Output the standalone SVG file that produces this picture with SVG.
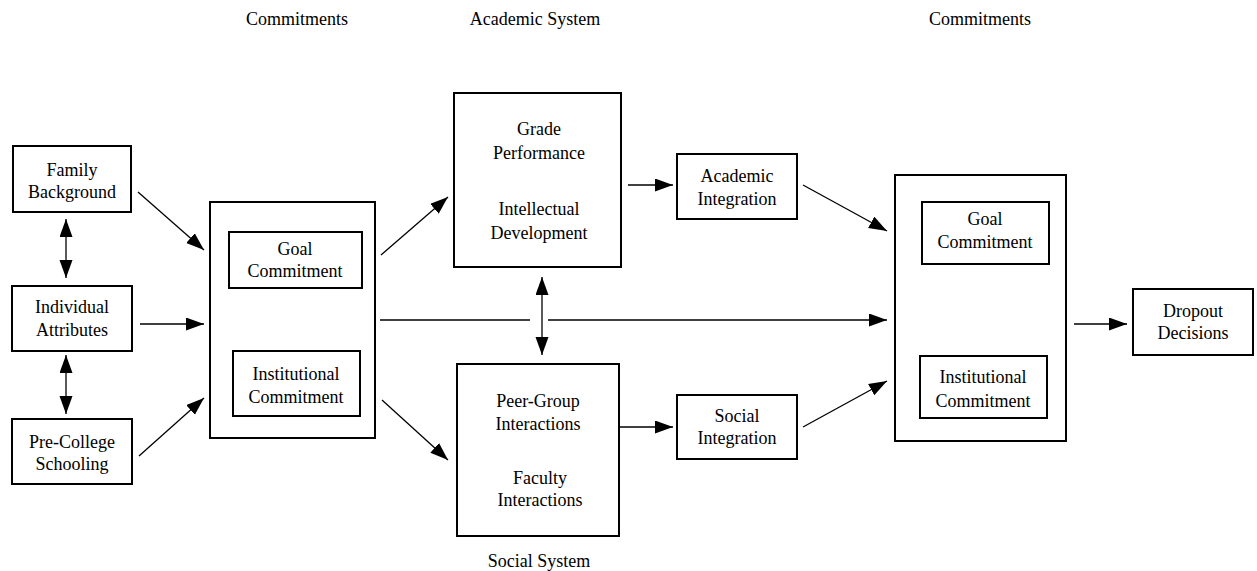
<svg xmlns="http://www.w3.org/2000/svg" width="1257" height="571" viewBox="0 0 1257 571">
<style>
rect{fill:#fff;stroke:#000;stroke-width:2}
text{font-family:"Liberation Serif","Times New Roman",serif;font-size:18px;fill:#000;text-anchor:middle}
.c line{stroke:#000;stroke-width:1.3}
</style>
<defs>
<marker id="ah" markerUnits="userSpaceOnUse" markerWidth="20" markerHeight="16" refX="18" refY="6.5" orient="auto-start-reverse">
<path d="M0,0 L18,6.5 L0,13 z" fill="#000"/>
</marker>
</defs>
<rect width="1257" height="571" style="fill:#fff;stroke:none"/>
<g id="titles">
<text x="297" y="25">Commitments</text>
<text x="535" y="25">Academic System</text>
<text x="980" y="25">Commitments</text>
<text x="539" y="567">Social System</text>
</g>
<g id="family"><rect x="13" y="146" width="118" height="66"/><text x="72" y="176">Family</text><text x="72" y="198">Background</text></g>
<g id="individual"><rect x="12" y="286" width="120" height="65"/><text x="72" y="313">Individual</text><text x="72" y="336">Attributes</text></g>
<g id="precollege"><rect x="12" y="419" width="120" height="65"/><text x="72" y="448">Pre-College</text><text x="72" y="470">Schooling</text></g>
<g id="commit1"><rect x="210" y="202" width="165" height="236"/>
<rect x="229" y="232" width="133" height="56"/><text x="295" y="255">Goal</text><text x="295" y="277">Commitment</text>
<rect x="233" y="351" width="127" height="65"/><text x="296" y="380">Institutional</text><text x="296" y="403">Commitment</text></g>
<g id="academic"><rect x="454" y="93" width="167" height="174"/><text x="539" y="135">Grade</text><text x="539" y="159">Performance</text><text x="539" y="215">Intellectual</text><text x="539" y="239">Development</text></g>
<g id="social"><rect x="457" y="364" width="162" height="172"/><text x="538" y="407">Peer-Group</text><text x="538" y="430">Interactions</text><text x="540" y="484">Faculty</text><text x="540" y="506">Interactions</text></g>
<g id="acadint"><rect x="677" y="154" width="120" height="65"/><text x="737" y="182">Academic</text><text x="737" y="205">Integration</text></g>
<g id="socint"><rect x="677" y="395" width="120" height="64"/><text x="737" y="422">Social</text><text x="737" y="444">Integration</text></g>
<g id="commit2"><rect x="895" y="175" width="171" height="266"/>
<rect x="922" y="202" width="127" height="62"/><text x="985" y="225">Goal</text><text x="985" y="248">Commitment</text>
<rect x="920" y="356" width="127" height="62"/><text x="983" y="383">Institutional</text><text x="983" y="407">Commitment</text></g>
<g id="dropout"><rect x="1133" y="289" width="120" height="66"/><text x="1193" y="317">Dropout</text><text x="1193" y="339">Decisions</text></g>
<g id="connectors" class="c">
<line x1="138" y1="192" x2="204" y2="250" marker-end="url(#ah)"/>
<line x1="140" y1="324" x2="204" y2="324" marker-end="url(#ah)"/>
<line x1="139" y1="456" x2="204" y2="398" marker-end="url(#ah)"/>
<line x1="66" y1="219" x2="66" y2="278" marker-start="url(#ah)" marker-end="url(#ah)"/>
<line x1="66" y1="355" x2="66" y2="414" marker-start="url(#ah)" marker-end="url(#ah)"/>
<line x1="381" y1="255" x2="448" y2="197" marker-end="url(#ah)"/>
<line x1="382" y1="400" x2="448" y2="460" marker-end="url(#ah)"/>
<line x1="380" y1="320" x2="530" y2="320"/>
<line x1="548" y1="320" x2="887" y2="320" marker-end="url(#ah)"/>
<line x1="542" y1="277" x2="542" y2="355" marker-start="url(#ah)" marker-end="url(#ah)"/>
<line x1="628" y1="185" x2="673" y2="185" marker-end="url(#ah)"/>
<line x1="619" y1="427" x2="673" y2="427" marker-end="url(#ah)"/>
<line x1="803" y1="185" x2="887" y2="231" marker-end="url(#ah)"/>
<line x1="803" y1="427" x2="887" y2="381" marker-end="url(#ah)"/>
<line x1="1074" y1="324" x2="1127" y2="324" marker-end="url(#ah)"/>
</g>
</svg>
